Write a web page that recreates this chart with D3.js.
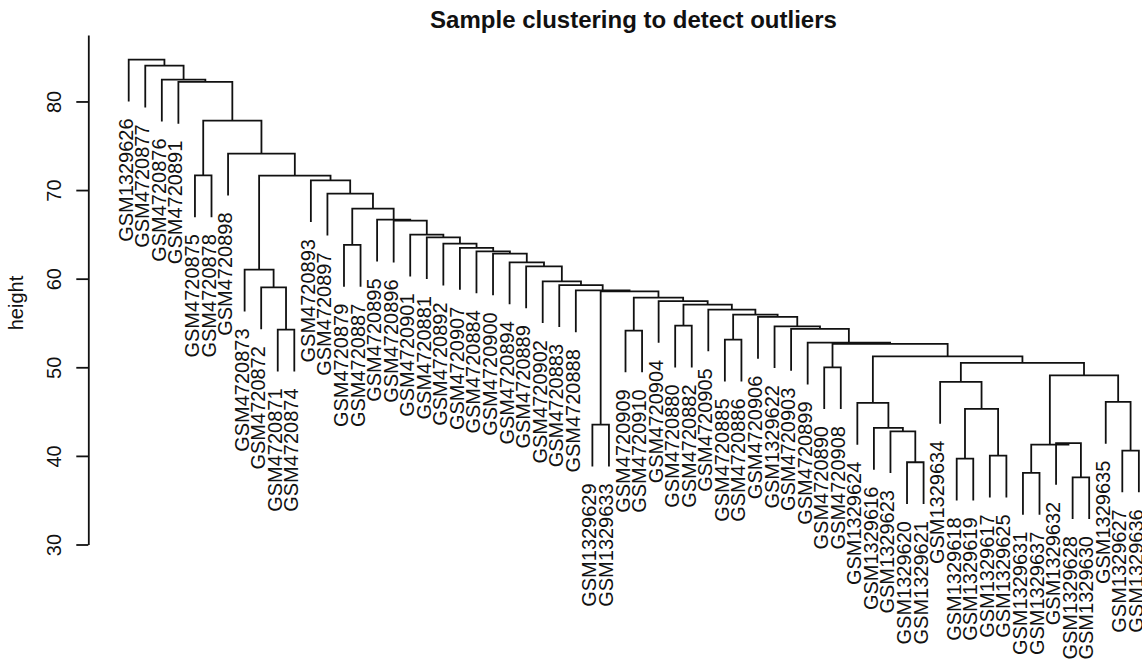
<!DOCTYPE html>
<html>
<head>
<meta charset="utf-8">
<script src="https://cdn.jsdelivr.net/npm/d3@7"></script>
<style>
  body { margin: 0; background: #fff; }
  svg text { font-family: "Liberation Sans", Arial, sans-serif; fill: #111; }
</style>
</head>
<body>
<div id="chart"></div>
<script>
// leaf labels in dendrogram order
const labels = [
  'GSM1329626', 'GSM4720877', 'GSM4720876', 'GSM4720891', 'GSM4720875', 'GSM4720878',
  'GSM4720898', 'GSM4720873', 'GSM4720872', 'GSM4720871', 'GSM4720874', 'GSM4720893',
  'GSM4720897', 'GSM4720879', 'GSM4720887', 'GSM4720895', 'GSM4720896', 'GSM4720901',
  'GSM4720881', 'GSM4720892', 'GSM4720907', 'GSM4720884', 'GSM4720900', 'GSM4720894',
  'GSM4720889', 'GSM4720902', 'GSM4720883', 'GSM4720888', 'GSM1329629', 'GSM1329633',
  'GSM4720909', 'GSM4720910', 'GSM4720904', 'GSM4720880', 'GSM4720882', 'GSM4720905',
  'GSM4720885', 'GSM4720886', 'GSM4720906', 'GSM1329622', 'GSM4720903', 'GSM4720899',
  'GSM4720890', 'GSM4720908', 'GSM1329624', 'GSM1329616', 'GSM1329623', 'GSM1329620',
  'GSM1329621', 'GSM1329634', 'GSM1329618', 'GSM1329619', 'GSM1329617', 'GSM1329625',
  'GSM1329631', 'GSM1329637', 'GSM1329632', 'GSM1329628', 'GSM1329630', 'GSM1329635',
  'GSM1329627', 'GSM1329636'
];

// hclust-style merges: negative = leaf position, positive = earlier merge (1-based)
const mergeLeft = [
  -10, -9, -8, -14, -29, -31, -34, -37, -43, -48,
  -47, -46, -45, -51, -53, 14, -50, -55, -58, -57,
  18, -61, -60, 21, 17, 13, 9, -42, -41, -40,
  -39, 8, -36, 7, -33, 6, 5, -28, -27, -26,
  -25, -24, -23, -22, -21, -20, -19, -18, -17, -16,
  4, -13, -12, 3, -7, -5, 56, -4, -3, -2, -1
];
const mergeRight = [
  -11, 1, 2, -15, -30, -32, -35, -38, -44, -49,
  10, 11, 12, -52, -54, 15, 16, -56, -59, 19,
  20, -62, 22, 23, 24, 25, 26, 27, 28, 29,
  30, 31, 32, 33, 34, 35, 36, 37, 38, 39,
  40, 41, 42, 43, 44, 45, 46, 47, 48, 49,
  50, 51, 52, 53, 54, -6, 55, 57, 58, 59, 60
];
const mergeHeight = [
  54.25, 59.02, 61.02, 63.81, 43.53, 54.14, 54.70, 53.12, 50.00, 39.28,
  42.77, 43.16, 45.98, 39.69, 40.03, 45.30, 48.35, 38.08, 37.58, 41.45,
  41.27, 40.60, 46.09, 49.09, 50.49, 51.24, 52.64, 52.78, 54.33, 54.62,
  55.68, 55.94, 56.51, 57.07, 57.47, 57.86, 58.56, 58.68, 59.27, 59.70,
  61.39, 61.84, 62.83, 63.08, 63.47, 63.95, 64.67, 64.97, 66.55, 66.66,
  67.91, 69.60, 71.10, 71.63, 74.11, 71.66, 77.83, 82.20, 82.46, 84.04, 84.72
];

const yTicks = [30, 40, 50, 60, 70, 80];

const width = 1142, height = 663;
const n = labels.length;
const hang = 0.1 * (d3.max(mergeHeight) - d3.min(mergeHeight));

const svg = d3.select('#chart')
    .append('svg')
    .attr('width', width)
    .attr('height', height);

// x like R: leaves 1..n with 4% padding each side
const pad = 0.04 * (n - 1);
const xScale = d3.scaleLinear()
    .domain([1 - pad, n + pad])
    .range([88.3, 88.3 + (n - 1 + 2 * pad) * 16.56]);

const yScale = d3.scaleLinear()
    .domain([30, 87.5])
    .range([544.5, 35]);

// build tree from merges
function build(ref) {
    if (ref < 0) return { leaf: -ref, name: labels[-ref - 1] };
    const i = ref - 1;
    return { h: mergeHeight[i], children: [build(mergeLeft[i]), build(mergeRight[i])] };
}
const root = d3.hierarchy(build(mergeHeight.length));

root.eachAfter(d => {
    d.px = d.children ? d3.mean(d.children, c => c.px) : xScale(d.data.leaf);
});

const tops = c => c.children ? yScale(c.data.h) : yScale(c.parent.data.h - hang);

svg.append('g')
    .selectAll('path')
    .data(root.descendants().filter(d => d.children))
    .enter()
    .append('path')
    .attr('d', d => {
        const [l, r] = d.children;
        const yh = yScale(d.data.h);
        return `M${l.px},${tops(l)}V${yh}H${r.px}V${tops(r)}`;
    })
    .attr('fill', 'none')
    .attr('stroke', '#111')
    .attr('stroke-width', 1.8);

// leaf labels, rotated
svg.append('g')
    .selectAll('text')
    .data(root.leaves())
    .enter()
    .append('text')
    .attr('transform', d => `translate(${d.px},${tops(d) + 17}) rotate(-90)`)
    .attr('text-anchor', 'end')
    .attr('dy', '0.2em')
    .attr('font-size', 20)
    .text(d => d.data.name);

// y axis
const axis = svg.append('g')
    .attr('transform', 'translate(88.3,0)')
    .call(d3.axisLeft(yScale).tickValues(yTicks).tickSize(12).tickSizeOuter(0));

axis.select('.domain').attr('stroke', '#111').attr('stroke-width', 1.8);
axis.selectAll('.tick line').attr('stroke', '#111').attr('stroke-width', 1.8);
axis.selectAll('.tick text')
    .attr('x', null)
    .attr('dy', '0.35em')
    .attr('transform', 'translate(-34.3,0) rotate(-90)')
    .attr('text-anchor', 'middle')
    .attr('font-size', 20)
    .attr('font-family', '"Liberation Sans", Arial, sans-serif')
    .attr('fill', '#111');

svg.append('text')
    .attr('transform', 'translate(18,303) rotate(-90)')
    .attr('text-anchor', 'middle')
    .attr('dy', '0.25em')
    .attr('font-size', 20)
    .text('height');

svg.append('text')
    .attr('x', 633.5)
    .attr('y', 28)
    .attr('text-anchor', 'middle')
    .attr('font-size', 24)
    .attr('font-weight', 'bold')
    .text('Sample clustering to detect outliers');
</script>
</body>
</html>
